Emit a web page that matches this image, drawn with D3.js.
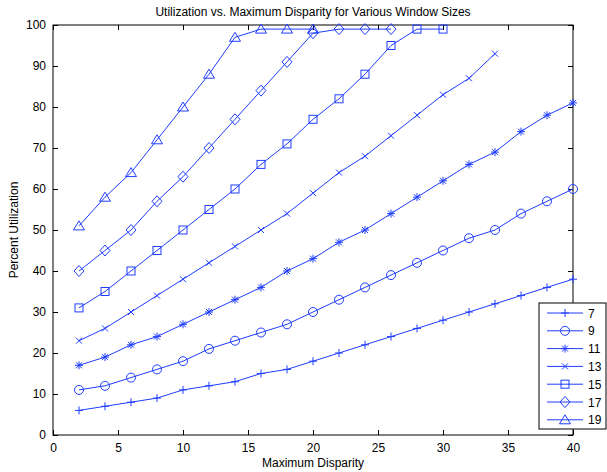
<!DOCTYPE html>
<html>
<head>
<meta charset="utf-8">
<script src="https://cdn.jsdelivr.net/npm/d3@7"></script>
<style>
  body { margin: 0; background: #fff; }
  svg { font-family: "Liberation Sans", Arial, Helvetica, sans-serif; }
</style>
</head>
<body>
<svg id="chart" width="607" height="472"></svg>
<script>
// Window sizes (legend entries) and their utilization curves
const windowSizes = ["7", "9", "11", "13", "15", "17", "19"];
const markers = ["plus", "circle", "star", "cross", "square", "diamond", "triangle"];
const xTicks = [0, 5, 10, 15, 20, 25, 30, 35, 40];
const yTicks = [0, 10, 20, 30, 40, 50, 60, 70, 80, 90, 100];

const util7  = [6, 7, 8, 9, 11, 12, 13, 15, 16, 18, 20, 22, 24, 26, 28, 30, 32, 34, 36, 38];
const util9  = [11, 12, 14, 16, 18, 21, 23, 25, 27, 30, 33, 36, 39, 42, 45, 48, 50, 54, 57, 60];
const util11 = [17, 19, 22, 24, 27, 30, 33, 36, 40, 43, 47, 50, 54, 58, 62, 66, 69, 74, 78, 81];
const util13 = [23, 26, 30, 34, 38, 42, 46, 50, 54, 59, 64, 68, 73, 78, 83, 87, 93];
const util15 = [31, 35, 40, 45, 50, 55, 60, 66, 71, 77, 82, 88, 95, 99, 99];
const util17 = [40, 45, 50, 57, 63, 70, 77, 84, 91, 98, 99, 99, 99];
const util19 = [51, 58, 64, 72, 80, 88, 97, 99, 99, 99];

// disparity goes 2, 4, 6 ... for every curve
const seriesValues = [util7, util9, util11, util13, util15, util17, util19];

(function() {
    const blue = "#1f3dff";
    const svg = d3.select("#chart");
    const mLeft = 53, mRight = 573, mTop = 25, mBottom = 435;

    const x = d3.scaleLinear().domain([0, 40]).range([mLeft, mRight]);
    const y = d3.scaleLinear().domain([0, 100]).range([mBottom, mTop]);

    // Axes with ticks pointing inward on all four sides
    svg.append("g")
        .attr("transform", `translate(0,${mBottom})`)
        .call(d3.axisBottom(x).tickValues(xTicks).tickSizeInner(-5).tickSizeOuter(0).tickPadding(8));
    svg.append("g")
        .attr("transform", `translate(${mLeft},0)`)
        .call(d3.axisLeft(y).tickValues(yTicks).tickSizeInner(-5).tickSizeOuter(0).tickPadding(7));
    svg.append("g")
        .attr("transform", `translate(0,${mTop})`)
        .call(d3.axisTop(x).tickValues(xTicks).tickSizeInner(-5).tickSizeOuter(0).tickFormat(""));
    svg.append("g")
        .attr("transform", `translate(${mRight},0)`)
        .call(d3.axisRight(y).tickValues(yTicks).tickSizeInner(-5).tickSizeOuter(0).tickFormat(""));

    svg.selectAll(".tick text").attr("font-size", 12).attr("fill", "#000")
        .attr("font-family", "Liberation Sans, Arial, sans-serif");
    svg.selectAll(".tick line").attr("stroke", "#000");
    svg.selectAll(".domain").remove();
    svg.append("rect")
        .attr("x", mLeft).attr("y", mTop)
        .attr("width", mRight - mLeft).attr("height", mBottom - mTop)
        .attr("fill", "none").attr("stroke", "#000").attr("stroke-width", 1);

    // Marker drawing
    function drawMarker(g, type) {
        const s = 4;
        if (type === "plus") {
            g.append("path").attr("d", `M${-s},0H${s}M0,${-s}V${s}`);
        } else if (type === "circle") {
            g.append("circle").attr("r", 4.5);
        } else if (type === "star") {
            g.append("path").attr("d", `M${-s},0H${s}M0,${-s}V${s}M-3,-3L3,3M-3,3L3,-3`);
        } else if (type === "cross") {
            g.append("path").attr("d", "M-3,-3L3,3M-3,3L3,-3");
        } else if (type === "square") {
            g.append("rect").attr("x", -4).attr("y", -4).attr("width", 8).attr("height", 8);
        } else if (type === "diamond") {
            g.append("path").attr("d", "M0,-5.5L5,0L0,5.5L-5,0Z");
        } else if (type === "triangle") {
            g.append("path").attr("d", "M0,-5L5.5,4L-5.5,4Z");
        }
    }

    const line = d3.line()
        .x((d, i) => x(2 + i * 2))
        .y(d => y(d));

    seriesValues.forEach((vals, k) => {
        const g = svg.append("g").attr("fill", "none").attr("stroke", blue).attr("stroke-width", 1);
        g.append("path").attr("d", line(vals));
        vals.forEach((v, i) => {
            const m = g.append("g").attr("transform", `translate(${x(2 + i * 2)},${y(v)})`);
            drawMarker(m, markers[k]);
        });
    });

    // Title and axis labels
    svg.append("text")
        .attr("x", (mLeft + mRight) / 2).attr("y", 16)
        .attr("text-anchor", "middle").attr("font-size", 12)
        .text("Utilization vs. Maximum Disparity for Various Window Sizes");
    svg.append("text")
        .attr("x", (mLeft + mRight) / 2).attr("y", 467)
        .attr("text-anchor", "middle").attr("font-size", 12)
        .text("Maximum Disparity");
    svg.append("text")
        .attr("transform", `translate(18,${(mTop + mBottom) / 2}) rotate(-90)`)
        .attr("text-anchor", "middle").attr("font-size", 12)
        .text("Percent Utilization");

    // Legend
    const legend = svg.append("g");
    legend.append("rect")
        .attr("x", 539).attr("y", 303).attr("width", 67).attr("height", 126)
        .attr("fill", "#fff").attr("stroke", "#000");
    windowSizes.forEach((name, k) => {
        const ly = 313 + k * 17.8;
        const g = legend.append("g").attr("fill", "none").attr("stroke", blue);
        g.append("line").attr("x1", 547).attr("x2", 583).attr("y1", ly).attr("y2", ly);
        drawMarker(g.append("g").attr("transform", `translate(565,${ly})`), markers[k]);
        legend.append("text")
            .attr("x", 588).attr("y", ly + 4.5)
            .attr("font-size", 12)
            .text(name);
    });
})();
</script>
</body>
</html>
